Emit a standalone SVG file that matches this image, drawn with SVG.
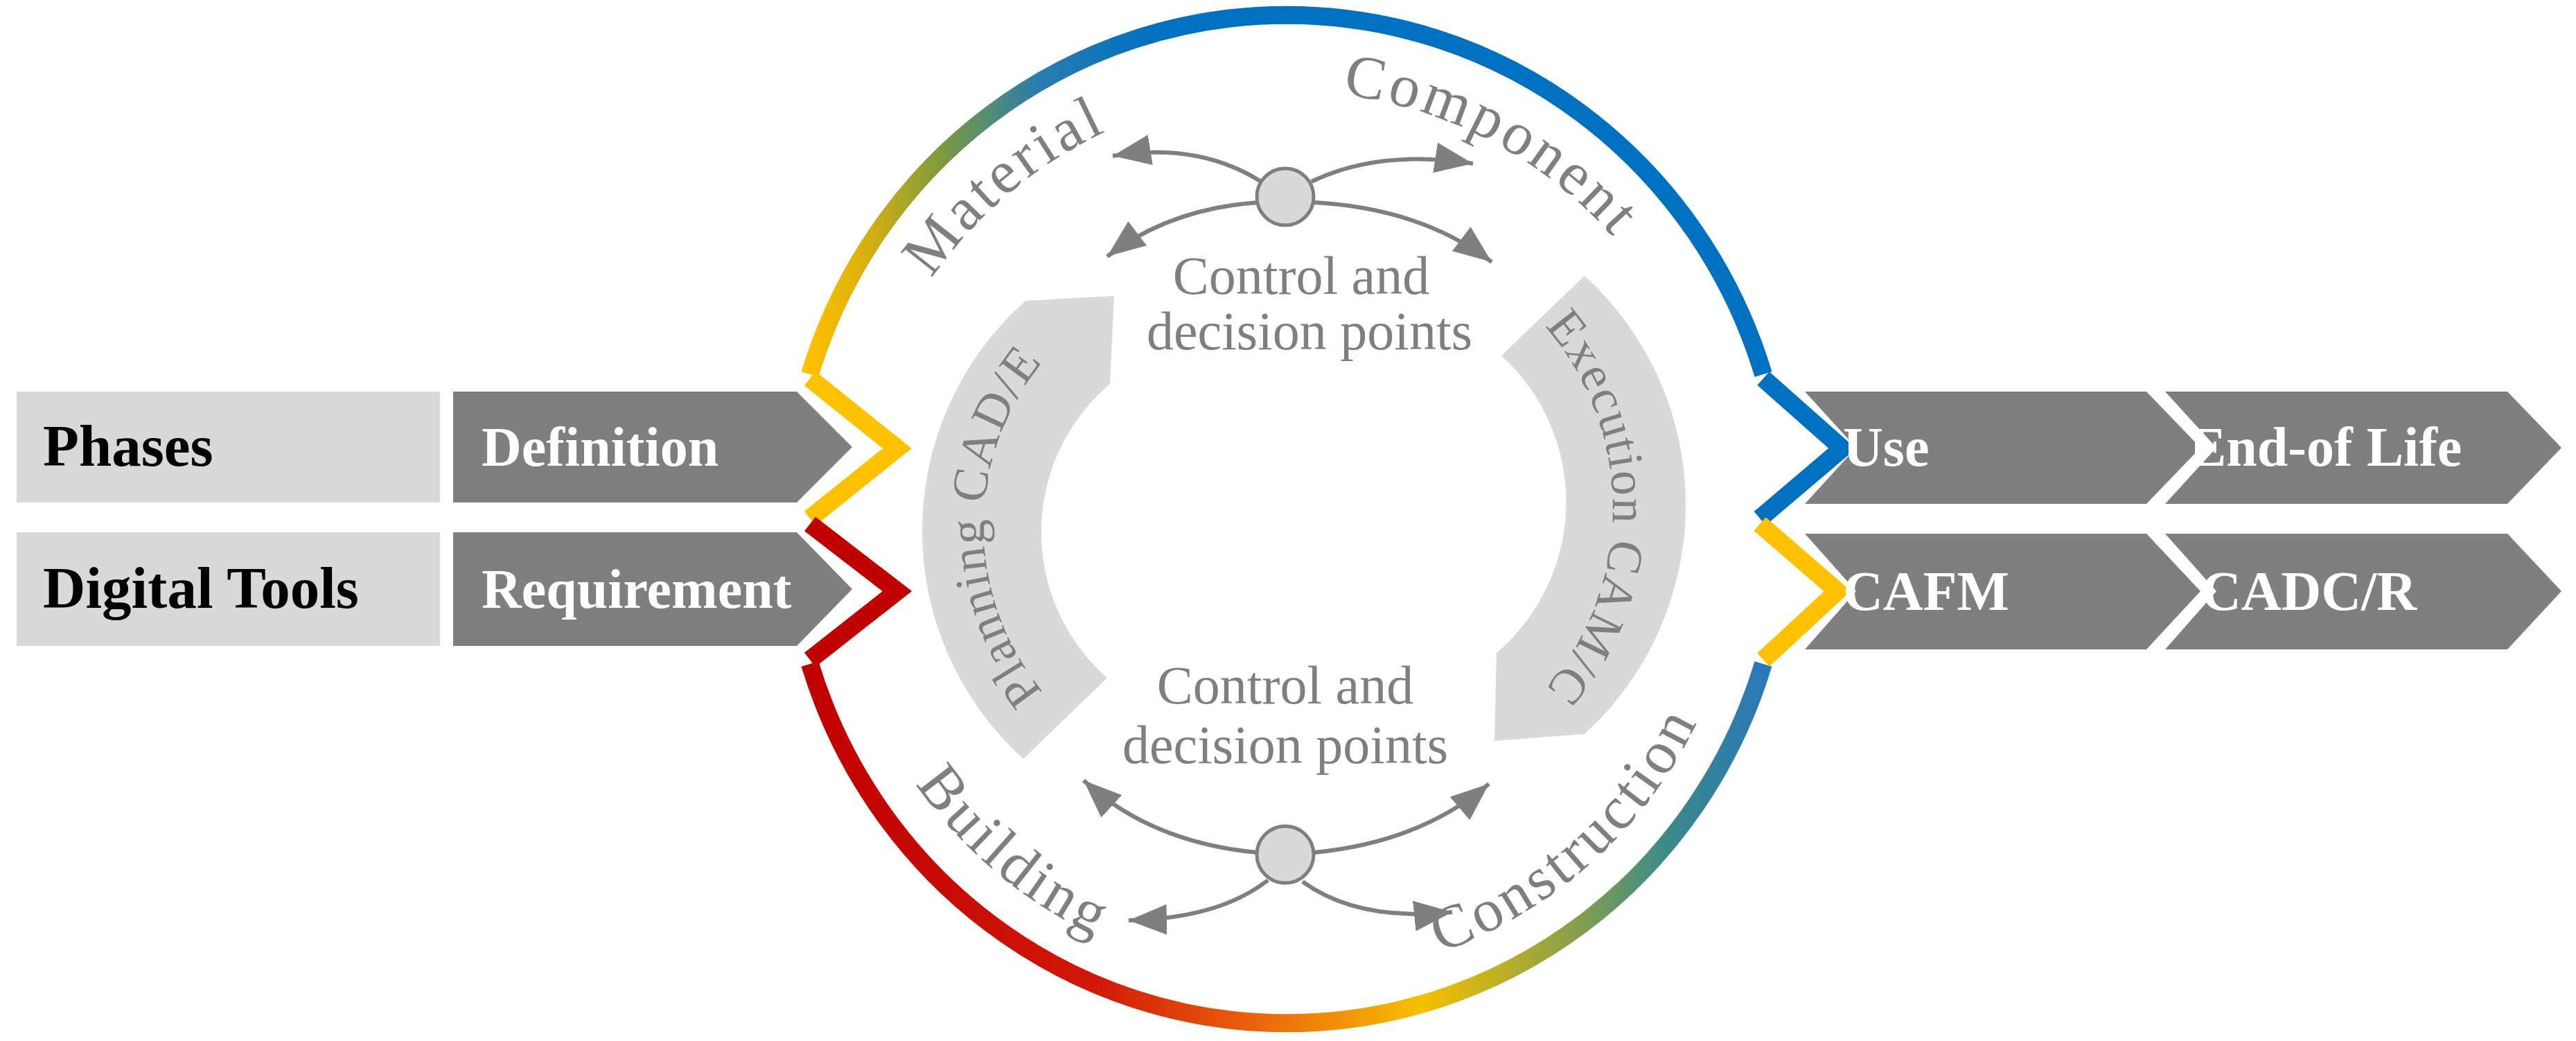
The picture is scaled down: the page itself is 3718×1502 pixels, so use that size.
<svg xmlns="http://www.w3.org/2000/svg" width="3718" height="1502" viewBox="0 0 3718 1502">
<style>
.lbl{font-family:"Liberation Serif","Times New Roman",serif;}
.head{font-size:85px;font-weight:bold;fill:#000}
.wt{font-size:80px;font-weight:bold;fill:#fff}
.gt{font-size:78px;fill:#7f7f7f}
.ring{font-size:88px;fill:#7f7f7f;letter-spacing:5px}
.arct{font-size:72px;fill:#7f7f7f;letter-spacing:2px}
.dark{fill:#7f7f7f}
.light{fill:#d9d9d9}
.conn{fill:none;stroke:#7f7f7f;stroke-width:6;marker-end:url(#ah)}
</style>
<defs>
<marker id="ah" markerUnits="userSpaceOnUse" markerWidth="60" markerHeight="60" viewBox="0 0 60 60" refX="55" refY="30" orient="auto">
<path d="M0,8 L55,30 L0,52 Z" fill="#7f7f7f"/>
</marker>
<linearGradient id="gTop" gradientUnits="userSpaceOnUse" x1="1169" y1="0" x2="2545" y2="0">
<stop offset="0" stop-color="#ffc000"/>
<stop offset="0.06" stop-color="#d8b010"/>
<stop offset="0.14" stop-color="#7a9a40"/>
<stop offset="0.24" stop-color="#2a7cb0"/>
<stop offset="0.36" stop-color="#0070c0"/>
<stop offset="1" stop-color="#0070c0"/>
</linearGradient>
<linearGradient id="gBot" gradientUnits="userSpaceOnUse" x1="1169" y1="0" x2="2545" y2="0">
<stop offset="0" stop-color="#c00000"/>
<stop offset="0.3" stop-color="#d01808"/>
<stop offset="0.48" stop-color="#ec6a0c"/>
<stop offset="0.64" stop-color="#f7c000"/>
<stop offset="0.8" stop-color="#88a048"/>
<stop offset="0.9" stop-color="#3a8a8a"/>
<stop offset="1" stop-color="#2a78b8"/>
</linearGradient>
<path id="pMat" d="M1237,702 A625,625 0 0 1 1914,134"/>
<path id="pComp" d="M1677,159 A625,625 0 0 1 2458,574"/>
<path id="pBuild" d="M1207,814 A655,655 0 0 0 1917,1410"/>
<path id="pCons" d="M1826,1411 A655,655 0 0 0 2514,791"/>
<path id="pPlan" d="M1535,1030 A374,374 0 0 1 1535,490"/>
<path id="pExec" d="M2215,455 A398,398 0 0 1 2215,1010"/>
</defs>
<rect width="3718" height="1502" fill="#fff"/>

<g id="ring">
<path d="M1169,540 A720,735 0 0 1 2545,540" fill="none" stroke="url(#gTop)" stroke-width="26"/>
<path d="M1169,958 A720,735 0 0 0 2545,958" fill="none" stroke="url(#gBot)" stroke-width="26"/>
<polyline points="1169,546 1295,647 1169,748" fill="none" stroke="#ffc000" stroke-width="26" stroke-linejoin="miter"/>
<polyline points="1169,756 1295,853 1169,952" fill="none" stroke="#c00000" stroke-width="26" stroke-linejoin="miter"/>
<polyline points="2545,546 2659,647 2540,748" fill="none" stroke="#0070c0" stroke-width="26" stroke-linejoin="miter"/>
<polyline points="2540,756 2652,853 2545,952" fill="none" stroke="#ffc000" stroke-width="26" stroke-linejoin="miter"/>
</g>

<g id="ring-labels" class="lbl">
<text class="ring"><textPath href="#pMat" startOffset="50%" text-anchor="middle">Material</textPath></text>
<text class="ring"><textPath href="#pComp" startOffset="50%" text-anchor="middle">Component</textPath></text>
<text class="ring"><textPath href="#pBuild" startOffset="50%" text-anchor="middle">Building</textPath></text>
<text class="ring"><textPath href="#pCons" startOffset="50%" text-anchor="middle">Construction</textPath></text>
</g>

<g id="phases-label"><rect class="light" x="24" y="565" width="611" height="160"/><text class="lbl head" x="62" y="672">Phases</text></g>
<g id="tools-label"><rect class="light" x="24" y="768" width="611" height="164"/><text class="lbl head" x="62" y="877">Digital Tools</text></g>
<g id="definition"><polygon class="dark" points="654,565 1150,565 1230,645 1150,725 654,725"/><text class="lbl wt" x="695" y="672">Definition</text></g>
<g id="requirement"><polygon class="dark" points="654,768 1150,768 1230,850 1150,932 654,932"/><text class="lbl wt" x="695" y="877">Requirement</text></g>
<g id="use"><polygon class="dark" points="2605,565 3098,565 3176,646 3098,727 2605,727 2679,646"/><text class="lbl wt" x="2660" y="672">Use</text></g>
<g id="endoflife"><polygon class="dark" points="3125,565 3619,565 3697,646 3619,727 3125,727 3199,646"/><text class="lbl wt" x="3160" y="672">End-of Life</text></g>
<g id="cafm"><polygon class="dark" points="2605,770 3098,770 3176,853 3098,937 2605,937 2679,853"/><text class="lbl wt" x="2660" y="880">CAFM</text></g>
<g id="cadcr"><polygon class="dark" points="3125,770 3619,770 3697,853 3619,937 3125,937 3199,853"/><text class="lbl wt" x="3177" y="880">CADC/R</text></g>

<g id="planning">
<path class="light" d="M1480,434 L1608,427 L1602,554 A280,280 0 0 0 1598,978 L1477,1095 A444,444 0 0 1 1480,434 Z"/>
<text class="lbl arct"><textPath href="#pPlan" startOffset="50%" text-anchor="middle">Planning CAD/E</textPath></text>
</g>
<g id="execution">
<path class="light" d="M2167,513 L2287,398 A447,447 0 0 1 2287,1059 L2157,1069 L2160,942 A286,286 0 0 0 2167,513 Z"/>
<text class="lbl arct"><textPath href="#pExec" startOffset="50%" text-anchor="middle">Execution CAM/C</textPath></text>
</g>

<g id="control-top">
<text class="lbl gt" x="1878" y="424" text-anchor="middle">Control and</text>
<text class="lbl gt" x="1890" y="504" text-anchor="middle">decision points</text>
</g>
<g id="control-bottom">
<text class="lbl gt" x="1855" y="1015" text-anchor="middle">Control and</text>
<text class="lbl gt" x="1855" y="1101" text-anchor="middle">decision points</text>
</g>

<g id="connectors">
<path class="conn" d="M1820,262 Q1730,205 1606,225"/>
<path class="conn" d="M1893,262 Q1990,215 2126,236"/>
<path class="conn" d="M1818,292 Q1690,300 1598,370"/>
<path class="conn" d="M1895,292 Q2050,300 2153,378"/>
<path class="conn" d="M1814,1230 Q1660,1215 1564,1126"/>
<path class="conn" d="M1897,1230 Q2050,1215 2149,1131"/>
<path class="conn" d="M1830,1270 Q1760,1325 1629,1328"/>
<path class="conn" d="M1880,1272 Q1960,1330 2096,1316"/>
</g>

<g id="decision-top"><circle cx="1855" cy="284" r="41" fill="#d9d9d9" stroke="#7f7f7f" stroke-width="5"/></g>
<g id="decision-bottom"><circle cx="1855" cy="1233" r="41" fill="#d9d9d9" stroke="#7f7f7f" stroke-width="5"/></g>
</svg>
